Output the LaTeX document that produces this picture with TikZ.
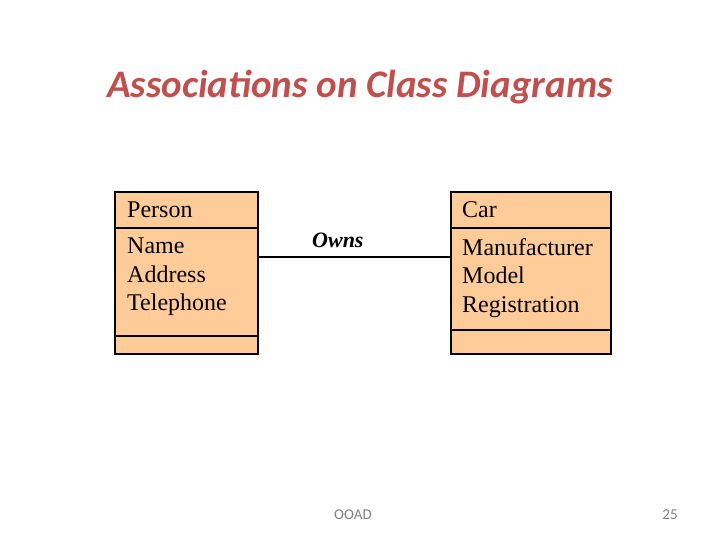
\documentclass[tikz,border=0pt]{standalone}
\usepackage{fontspec}
\setmainfont{Liberation Serif}
\newfontfamily\carl{Carlito}
\definecolor{peach}{RGB}{255,204,153}
\definecolor{titlered}{RGB}{192,80,77}
\begin{document}
\begin{tikzpicture}[x=1pt,y=-1pt,
  box/.style={draw,line width=1.2pt,fill=peach},
  txt/.style={anchor=west,inner sep=0pt,font=\fontsize{24}{28.5}\selectfont,align=left}]
\useasboundingbox (0,0) rectangle (720,540);
\node[font=\carl\bfseries\itshape\fontsize{39}{42}\selectfont,text=titlered] (title) at (360,87) {Associations on Class Diagrams};
\draw[box] (115,192) rectangle (258,354);
\draw[line width=1.2pt] (115,228) -- (258,228) (115,336) -- (258,336);
\draw[box] (451,192) rectangle (611,354);
\draw[line width=1.2pt] (451,228) -- (611,228) (451,330) -- (611,330);
\coordinate (pr) at (258,257);
\coordinate (cl) at (451,257);
\node[txt] (pn) at (127,210) {Person};
\node[txt,anchor=north west] (pa) at (127,238) {Name\\Address\\Telephone};
\node[txt] (cn) at (462,210) {Car};
\node[txt,anchor=north west] (ca) at (462,238) {Manufacturer\\Model\\Registration};
\draw[line width=1.2pt] (pr) -- (cl);
\node[txt,font=\bfseries\itshape\fontsize{22}{28}\selectfont] (owns) at (312,240) {Owns};
\node[font=\carl\fontsize{15}{17}\selectfont,text=gray] (f1) at (353,515) {OOAD};
\node[font=\carl\fontsize{15}{17}\selectfont,text=gray] (f2) at (670,515) {25};
\end{tikzpicture}
\end{document}
